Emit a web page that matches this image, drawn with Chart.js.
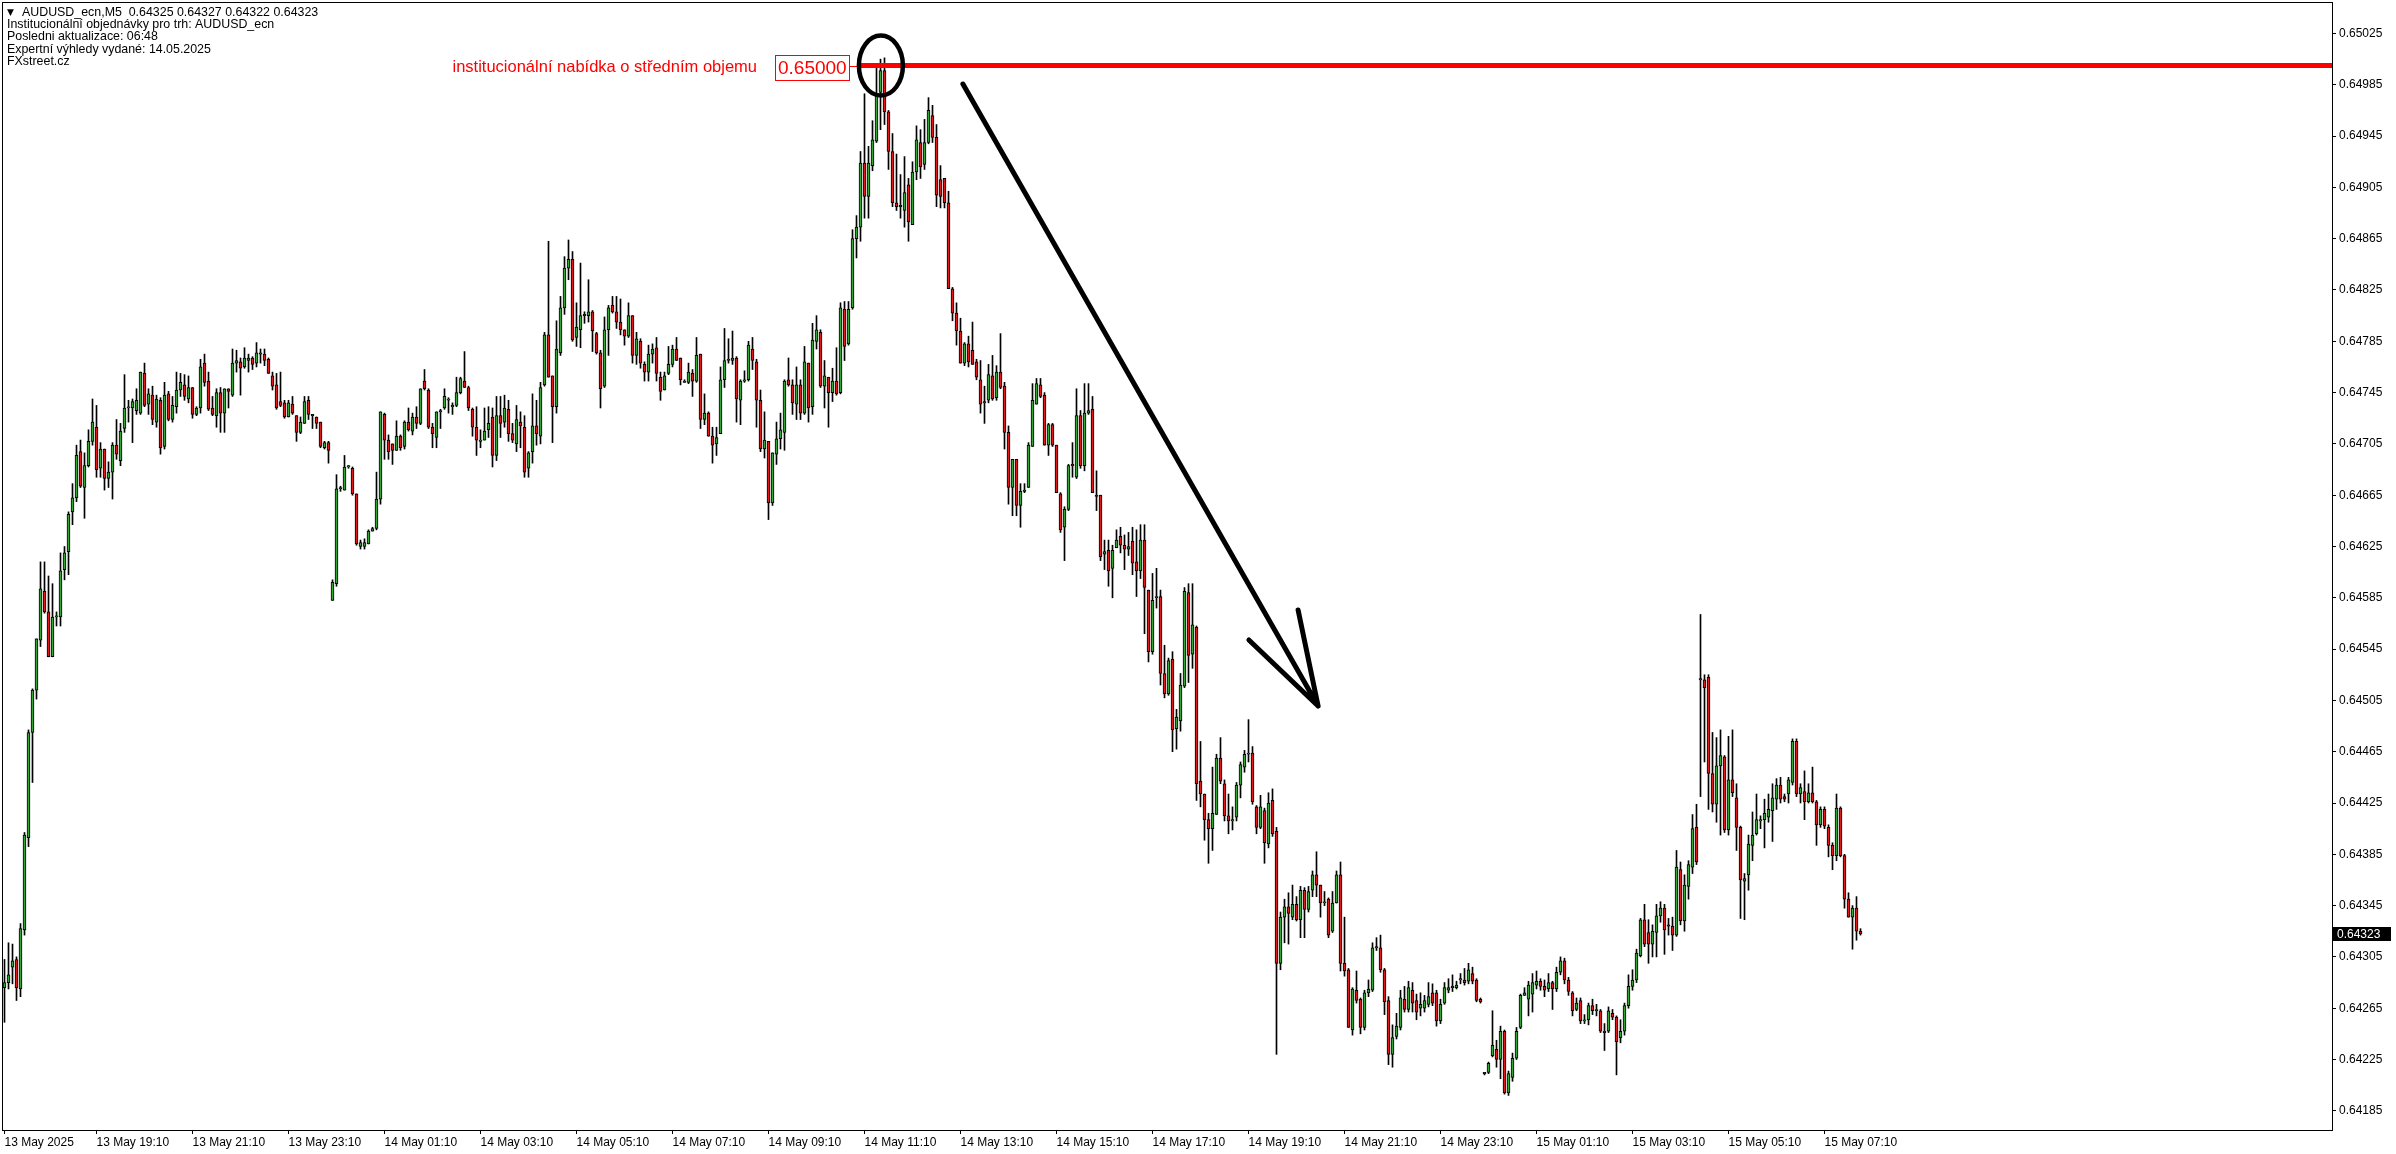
<!DOCTYPE html>
<html>
<head>
<meta charset="utf-8">
<title>AUDUSD_ecn,M5</title>
<script src="https://cdn.jsdelivr.net/npm/chart.js@4/dist/chart.umd.min.js"></script>
<style>
  html, body { margin: 0; padding: 0; background: #fff; }
  canvas { display: block; }
</style>
</head>
<body>
<canvas id="chart" width="2396" height="1154"></canvas>
<script>
// AUDUSD_ecn M5 bars, 13 May 2025 17:15 onwards. Prices in points (1 point = 0.00001)
const opens = [
  64281,64285,64297,64303,64280,64326,64398,64480,64513,64552,
  64590,64574,64539,64570,64570,64607,64621,64652,64663,64699,
  64671,64688,64707,64718,64686,64701,64678,64683,64704,64692,
  64717,64733,64733,64731,64729,64760,64736,64743,64722,64739,
  64703,64744,64724,64734,64747,64751,64740,64749,64728,64733,
  64768,64754,64733,64727,64745,64729,64748,64743,64768,64769,
  64765,64770,64772,64768,64775,64775,64771,64758,64751,64738,
  64737,64726,64736,64727,64714,64721,64739,64727,64726,64722,
  64702,64706,64583,64596,64670,64669,64687,64686,64666,64625,
  64625,64627,64637,64639,64662,64728,64708,64705,64700,64711,
  64703,64722,64715,64726,64721,64754,64747,64718,64710,64730,
  64733,64739,64734,64735,64745,64754,64749,64732,64718,64707,
  64708,64716,64726,64696,64727,64722,64732,64713,64705,64722,
  64718,64686,64699,64719,64711,64751,64790,64758,64734,64776,
  64811,64842,64849,64788,64794,64805,64805,64808,64791,64776,
  64750,64794,64813,64808,64800,64794,64789,64805,64774,64785,
  64767,64761,64775,64780,64757,64747,64760,64767,64779,64772,
  64754,64753,64760,64754,64775,64724,64729,64711,64705,64713,
  64755,64770,64770,64772,64739,64754,64755,64779,64769,64739,
  64701,64707,64659,64697,64709,64714,64755,64751,64736,64751,
  64729,64768,64734,64785,64792,64750,64757,64745,64754,64745,
  64810,64783,64811,64865,64874,64924,64898,64922,64941,64979,
  64996,64964,64933,64893,64890,64887,64907,64876,64917,64940,
  64923,64940,64961,64944,64911,64912,64893,64826,64807,64793,
  64768,64783,64778,64769,64755,64737,64739,64758,64741,64761,
  64750,64714,64671,64693,64657,64668,64671,64703,64736,64751,
  64743,64704,64720,64704,64666,64640,64654,64689,64679,64727,
  64688,64729,64732,64665,64665,64619,64622,64608,64624,64633,
  64626,64623,64629,64613,64606,64630,64591,64543,64585,64586,
  64526,64510,64537,64483,64489,64516,64589,64541,64562,64442,
  64432,64412,64405,64416,64460,64440,64415,64411,64414,64439,
  64453,64463,64464,64422,64406,64419,64393,64427,64403,64300,
  64336,64344,64336,64346,64334,64357,64342,64357,64369,64361,
  64347,64350,64325,64347,64369,64300,64295,64248,64279,64272,
  64250,64277,64279,64312,64312,64295,64271,64229,64243,64250,
  64272,64264,64279,64271,64265,64265,64268,64277,64277,64255,
  64269,64279,64281,64281,64287,64287,64286,64292,64287,64272,
  64214,64215,64228,64233,64225,64247,64199,64211,64226,64250,
  64275,64272,64276,64283,64286,64282,64280,64285,64280,64293,
  64302,64287,64277,64264,64271,64255,64256,64267,64263,64263,
  64247,64247,64261,64258,64242,64247,64267,64282,64287,64306,
  64334,64324,64315,64324,64337,64343,64330,64329,64322,64373,
  64333,64360,64375,64406,64521,64521,64523,64448,64424,64454,
  64461,64404,64443,64429,64406,64364,64369,64392,64401,64411,
  64412,64414,64419,64428,64439,64430,64432,64441,64473,64432,
  64434,64426,64433,64426,64408,64420,64406,64392,64384,64421,
  64384,64350,64336,64343,64325
];
const highs = [
  64303,64316,64315,64305,64331,64402,64482,64514,64553,64613,
  64613,64602,64596,64574,64620,64625,64652,64674,64704,64708,
  64698,64716,64740,64735,64706,64701,64691,64706,64724,64721,
  64759,64739,64740,64748,64761,64768,64748,64750,64743,64741,
  64753,64746,64742,64761,64760,64759,64758,64749,64734,64771,
  64775,64761,64742,64748,64749,64748,64748,64779,64778,64772,
  64780,64775,64773,64784,64779,64779,64772,64761,64760,64761,
  64739,64739,64742,64727,64726,64742,64742,64728,64726,64722,
  64707,64707,64599,64681,64672,64696,64688,64687,64666,64630,
  64631,64638,64640,64683,64730,64729,64712,64705,64723,64712,
  64723,64733,64729,64734,64748,64763,64748,64721,64730,64732,
  64748,64741,64737,64757,64757,64777,64750,64733,64734,64716,
  64733,64734,64733,64742,64742,64743,64739,64721,64735,64730,
  64727,64699,64744,64739,64753,64792,64863,64758,64801,64820,
  64851,64864,64855,64815,64846,64808,64833,64809,64792,64778,
  64804,64813,64820,64820,64818,64794,64815,64805,64792,64787,
  64769,64782,64783,64788,64761,64761,64781,64782,64788,64772,
  64755,64768,64763,64788,64775,64744,64730,64718,64718,64765,
  64795,64787,64793,64773,64755,64762,64785,64788,64771,64747,
  64730,64707,64698,64722,64729,64755,64772,64755,64765,64755,
  64781,64768,64799,64805,64794,64770,64757,64764,64780,64815,
  64816,64816,64872,64883,64933,64978,64937,64957,65000,65005,
  65006,64965,64947,64931,64915,64929,64912,64925,64953,64950,
  64958,64975,64969,64954,64922,64912,64902,64827,64815,64803,
  64784,64789,64800,64771,64770,64750,64767,64774,64766,64791,
  64753,64719,64693,64693,64674,64674,64706,64752,64756,64756,
  64745,64721,64721,64704,64667,64656,64689,64706,64748,64731,
  64752,64752,64742,64684,64665,64630,64630,64626,64638,64640,
  64634,64636,64640,64638,64642,64642,64591,64604,64608,64591,
  64548,64538,64543,64498,64526,64593,64596,64596,64563,64473,
  64432,64417,64453,64463,64476,64443,64432,64422,64441,64457,
  64466,64490,64469,64423,64431,64421,64433,64436,64406,64340,
  64350,64355,64361,64352,64360,64359,64360,64372,64387,64361,
  64356,64351,64356,64372,64379,64336,64296,64281,64294,64273,
  64279,64287,64316,64320,64322,64296,64274,64252,64261,64279,
  64282,64286,64285,64276,64277,64275,64285,64284,64279,64272,
  64285,64288,64291,64286,64292,64296,64300,64297,64288,64273,
  64215,64223,64263,64240,64251,64248,64216,64230,64250,64276,
  64281,64286,64292,64294,64288,64287,64292,64286,64297,64305,
  64304,64289,64278,64273,64273,64260,64269,64272,64268,64264,
  64253,64266,64264,64259,64256,64269,64291,64295,64311,64335,
  64346,64334,64330,64346,64348,64346,64335,64336,64388,64379,
  64369,64380,64416,64424,64572,64525,64525,64480,64476,64482,
  64462,64477,64482,64440,64407,64370,64400,64418,64432,64415,
  64428,64432,64440,64444,64445,64432,64445,64475,64475,64440,
  64450,64440,64453,64427,64422,64422,64408,64394,64432,64422,
  64385,64355,64345,64352,64327
];
const lows = [
  64254,64280,64284,64271,64274,64322,64391,64441,64506,64547,
  64573,64539,64539,64563,64563,64599,64603,64642,64660,64671,
  64647,64687,64704,64679,64679,64669,64671,64662,64693,64688,
  64714,64722,64706,64728,64728,64734,64728,64720,64718,64697,
  64701,64723,64722,64729,64742,64739,64737,64725,64727,64729,
  64750,64731,64727,64718,64714,64714,64733,64742,64761,64743,
  64764,64761,64763,64765,64768,64766,64760,64747,64732,64734,
  64725,64726,64728,64707,64713,64721,64724,64717,64717,64702,
  64701,64690,64583,64594,64668,64669,64686,64665,64626,64623,
  64623,64627,64637,64638,64658,64693,64693,64689,64700,64700,
  64701,64715,64712,64717,64720,64747,64717,64702,64702,64717,
  64732,64729,64728,64734,64744,64749,64731,64711,64696,64702,
  64708,64710,64687,64692,64710,64718,64707,64706,64699,64702,
  64679,64679,64690,64704,64705,64750,64757,64706,64729,64774,
  64806,64833,64785,64781,64780,64799,64800,64777,64775,64733,
  64749,64774,64807,64795,64790,64782,64788,64768,64767,64764,
  64754,64754,64768,64754,64739,64747,64759,64765,64770,64751,
  64753,64752,64742,64753,64717,64720,64711,64690,64696,64713,
  64749,64768,64767,64722,64720,64753,64754,64763,64718,64699,
  64694,64646,64657,64689,64701,64700,64750,64728,64724,64724,
  64728,64722,64728,64779,64749,64733,64718,64738,64743,64744,
  64770,64782,64810,64850,64863,64881,64881,64918,64940,64950,
  64954,64919,64890,64887,64881,64874,64863,64876,64911,64912,
  64919,64939,64940,64890,64889,64889,64826,64801,64782,64768,
  64766,64765,64767,64755,64729,64721,64737,64739,64739,64748,
  64701,64658,64649,64649,64640,64667,64671,64703,64736,64741,
  64704,64696,64703,64667,64636,64614,64653,64679,64678,64686,
  64684,64728,64667,64653,64614,64607,64594,64585,64624,64620,
  64607,64618,64603,64586,64600,64557,64535,64541,64577,64517,
  64507,64509,64465,64467,64481,64515,64519,64530,64427,64422,
  64396,64378,64388,64416,64440,64411,64401,64404,64411,64429,
  64449,64457,64424,64401,64405,64378,64390,64399,64229,64295,
  64316,64315,64334,64333,64320,64320,64340,64352,64352,64336,
  64345,64320,64324,64347,64294,64290,64250,64244,64269,64245,
  64248,64274,64278,64310,64293,64260,64221,64219,64241,64248,
  64262,64262,64262,64256,64259,64262,64266,64267,64251,64253,
  64268,64277,64278,64280,64284,64283,64284,64284,64270,64269,
  64213,64214,64227,64219,64210,64198,64197,64208,64225,64249,
  64275,64259,64262,64280,64279,64274,64278,64264,64278,64291,
  64284,64275,64259,64263,64253,64253,64252,64260,64259,64246,
  64232,64246,64256,64213,64238,64244,64265,64279,64285,64305,
  64313,64300,64305,64305,64332,64307,64322,64310,64321,64330,
  64325,64350,64370,64377,64430,64457,64420,64418,64410,64400,
  64402,64400,64430,64388,64335,64334,64357,64380,64400,64405,
  64390,64410,64395,64420,64425,64426,64425,64439,64430,64425,
  64412,64425,64425,64392,64406,64405,64383,64373,64380,64383,
  64343,64336,64311,64318,64322
];
const closes = [
  64285,64291,64302,64281,64327,64400,64480,64513,64553,64592,
  64574,64539,64570,64571,64606,64620,64650,64663,64696,64672,
  64688,64707,64722,64685,64701,64678,64683,64704,64697,64715,
  64733,64734,64738,64739,64761,64735,64744,64724,64740,64702,
  64743,64724,64735,64747,64753,64742,64749,64728,64733,64765,
  64753,64732,64728,64745,64729,64748,64746,64768,64770,64764,
  64772,64772,64767,64776,64776,64770,64760,64750,64733,64735,
  64726,64737,64729,64714,64722,64738,64728,64728,64721,64703,
  64706,64700,64597,64670,64671,64687,64688,64666,64627,64628,
  64628,64637,64639,64662,64730,64708,64699,64700,64711,64702,
  64722,64716,64726,64721,64748,64748,64718,64713,64730,64731,
  64742,64740,64735,64745,64756,64749,64733,64718,64708,64708,
  64715,64721,64696,64727,64721,64733,64713,64708,64724,64719,
  64683,64698,64719,64713,64749,64790,64757,64734,64779,64811,
  64842,64849,64786,64796,64805,64806,64808,64793,64776,64748,
  64794,64811,64808,64800,64794,64789,64805,64774,64787,64768,
  64761,64775,64779,64760,64746,64758,64767,64779,64770,64755,
  64753,64761,64754,64774,64724,64729,64711,64704,64710,64755,
  64770,64771,64772,64740,64754,64755,64782,64770,64739,64701,
  64708,64659,64698,64709,64716,64754,64751,64737,64751,64729,
  64769,64733,64786,64794,64750,64758,64745,64754,64744,64811,
  64781,64810,64865,64874,64924,64898,64924,64942,64977,64996,
  64964,64933,64893,64890,64891,64901,64878,64917,64942,64921,
  64940,64965,64944,64899,64898,64893,64826,64807,64793,64768,
  64783,64769,64767,64757,64736,64738,64759,64740,64761,64749,
  64714,64671,64693,64657,64668,64669,64704,64739,64752,64742,
  64704,64720,64704,64667,64638,64654,64688,64688,64727,64688,
  64729,64731,64667,64664,64617,64621,64606,64622,64630,64626,
  64623,64625,64612,64606,64630,64593,64543,64583,64586,64526,
  64510,64536,64482,64492,64517,64590,64540,64564,64440,64432,
  64412,64405,64417,64460,64442,64415,64411,64412,64439,64455,
  64463,64464,64426,64406,64422,64394,64425,64401,64300,64336,
  64344,64339,64346,64334,64357,64342,64356,64369,64361,64347,
  64348,64322,64347,64369,64300,64294,64250,64280,64271,64250,
  64277,64280,64312,64313,64295,64270,64229,64242,64251,64273,
  64264,64281,64269,64262,64268,64271,64274,64269,64255,64268,
  64281,64281,64282,64283,64288,64285,64295,64286,64271,64270,
  64215,64222,64236,64225,64247,64199,64214,64226,64247,64275,
  64277,64283,64285,64286,64282,64279,64285,64280,64293,64302,
  64287,64278,64263,64269,64255,64256,64267,64263,64264,64247,
  64246,64263,64258,64239,64247,64267,64282,64287,64308,64334,
  64315,64315,64325,64337,64343,64326,64329,64322,64375,64333,
  64361,64377,64405,64379,64522,64515,64448,64424,64454,64462,
  64404,64443,64433,64406,64365,64366,64393,64400,64412,64412,
  64417,64420,64429,64439,64428,64428,64443,64473,64432,64437,
  64426,64433,64426,64408,64420,64407,64392,64384,64421,64384,
  64350,64336,64343,64325,64323
];

// time axis: bar index of each label and its text
const timeTickIdx = [0, 23, 47, 71, 95, 119, 143, 167, 191, 215, 239, 263, 287, 311, 335, 359, 383, 407, 431, 455];
const timeTickText = ['13 May 2025', '13 May 19:10', '13 May 21:10', '13 May 23:10', '14 May 01:10', '14 May 03:10',
  '14 May 05:10', '14 May 07:10', '14 May 09:10', '14 May 11:10', '14 May 13:10', '14 May 15:10', '14 May 17:10',
  '14 May 19:10', '14 May 21:10', '14 May 23:10', '15 May 01:10', '15 May 03:10', '15 May 05:10', '15 May 07:10'];

// price axis
const priceTicks = [0.64185, 0.64225, 0.64265, 0.64305, 0.64345, 0.64385, 0.64425, 0.64465, 0.64505, 0.64545, 0.64585,
  0.64625, 0.64665, 0.64705, 0.64745, 0.64785, 0.64825, 0.64865, 0.64905, 0.64945, 0.64985, 0.65025];
const levelPrice = 0.65000;
const levelFromBar = 214;
const lastPrice = 0.64323;

const infoLines = [
  'AUDUSD_ecn,M5  0.64325 0.64327 0.64322 0.64323',
  'Institucionální objednávky pro trh: AUDUSD_ecn',
  'Posledni aktualizace: 06:48',
  'Expertní výhledy vydané: 14.05.2025',
  'FXstreet.cz'
];
const levelText = 'institucionální nabídka o středním objemu';

// drawn marks, in (bar index, price)
const circleAt = { bar: 219.1, price: 0.65, rx: 22, ry: 30 };
const arrowLine = [[239.6, 0.649856], [328.4, 0.645006]];
const arrowWings = [[311.1, 0.645521], [323.4, 0.645755]];

const POINT = 0.00001;
const lens = [opens.length, highs.length, lows.length, closes.length];
if (new Set(lens).size !== 1) throw new Error('length mismatch ' + lens.join(','));

const X_MIN = -0.625, X_MAX = 581.875;
const GREEN = '#36a536', RED = '#e01818';

const bodies = opens.map((o, i) => ({ x: i, y: [Math.min(o, closes[i]) * POINT, Math.max(o, closes[i]) * POINT] }));
const wicks = highs.map((h, i) => ({ x: i, y: [lows[i] * POINT, h * POINT] }));

const axisFont = { family: 'Liberation Sans', size: 12 };

const overlay = {
  id: 'overlay',
  afterDraw(chart) {
    const { ctx, chartArea: a, scales: { x, y } } = chart;
    ctx.save();

    // frame
    ctx.strokeStyle = '#000';
    ctx.lineWidth = 1;
    ctx.strokeRect(a.left + 0.5, a.top + 0.5, a.right - a.left, a.bottom - a.top);

    // level label
    const yl = Math.round(y.getPixelForValue(levelPrice));
    const xs = x.getPixelForValue(levelFromBar);
    const boxR = Math.round(xs) - 11, boxW = 74, boxT = yl - 11, boxH = 25;
    ctx.fillStyle = '#fff';
    ctx.fillRect(boxR - boxW, boxT, boxW, boxH);
    ctx.strokeStyle = '#ff0000';
    ctx.lineWidth = 1;
    ctx.strokeRect(boxR - boxW + 0.5, boxT + 0.5, boxW, boxH);
    ctx.beginPath();
    ctx.moveTo(boxR + 0.5, yl + 0.5);
    ctx.lineTo(xs, yl + 0.5);
    ctx.stroke();
    ctx.fillStyle = '#ff0000';
    ctx.textBaseline = 'middle';
    ctx.textAlign = 'left';
    ctx.font = '19px "Liberation Sans"';
    ctx.fillText(levelPrice.toFixed(5), boxR - boxW + 3, boxT + boxH / 2 + 1);
    ctx.textAlign = 'right';
    ctx.font = '16.5px "Liberation Sans"';
    ctx.fillText(levelText, boxR - boxW - 18, boxT + boxH / 2);

    // circle round the top
    ctx.strokeStyle = '#000';
    ctx.lineWidth = 4.5;
    ctx.beginPath();
    ctx.ellipse(x.getPixelForValue(circleAt.bar), y.getPixelForValue(circleAt.price), circleAt.rx, circleAt.ry, 0, 0, Math.PI * 2);
    ctx.stroke();

    // arrow
    const pt = p => [x.getPixelForValue(p[0]), y.getPixelForValue(p[1])];
    const [s, t] = arrowLine.map(pt);
    ctx.lineWidth = 5;
    ctx.lineCap = 'round';
    ctx.beginPath();
    ctx.moveTo(s[0], s[1]);
    ctx.lineTo(t[0], t[1]);
    arrowWings.map(pt).forEach(w => { ctx.moveTo(t[0], t[1]); ctx.lineTo(w[0], w[1]); });
    ctx.stroke();

    // info text top left
    ctx.fillStyle = '#000';
    ctx.textAlign = 'left';
    ctx.textBaseline = 'middle';
    ctx.font = '9px "DejaVu Sans"';
    ctx.fillText('▼', 7, 12.5);
    ctx.font = '12.4px "Liberation Sans"';
    infoLines.forEach((line, k) => ctx.fillText(line, k === 0 ? 22 : 7, 12.5 + k * 12.25));

    // last price tag
    const yp = Math.round(y.getPixelForValue(lastPrice));
    ctx.fillStyle = '#000';
    ctx.fillRect(a.right + 1, yp - 7, 58, 14);
    ctx.fillStyle = '#fff';
    ctx.font = '12px "Liberation Sans"';
    ctx.fillText(lastPrice.toFixed(5), a.right + 5, yp + 0.5);

    ctx.restore();
  }
};

new Chart(document.getElementById('chart'), {
  type: 'bar',
  data: {
    datasets: [
      {
        type: 'line',
        label: 'level',
        data: [{ x: levelFromBar, y: levelPrice }, { x: X_MAX, y: levelPrice }],
        borderColor: '#ff0000',
        borderWidth: 5,
        pointRadius: 0,
        order: 0
      },
      {
        label: 'body',
        data: bodies,
        barThickness: 3,
        minBarLength: 1,
        borderWidth: 1,
        borderColor: '#000',
        borderSkipped: false,
        backgroundColor: c => closes[c.dataIndex] >= opens[c.dataIndex] ? GREEN : RED,
        grouped: false,
        order: 1
      },
      {
        label: 'wick',
        data: wicks,
        barThickness: 1,
        borderWidth: 0,
        backgroundColor: '#000',
        grouped: false,
        order: 2
      }
    ]
  },
  options: {
    responsive: false,
    devicePixelRatio: 1,
    animation: false,
    layout: { padding: { left: 2, top: 2, right: 0, bottom: 0 } },
    plugins: { legend: { display: false }, tooltip: { enabled: false } },
    scales: {
      x: {
        type: 'linear',
        offset: false,
        min: X_MIN,
        max: X_MAX,
        afterBuildTicks: sc => { sc.ticks = timeTickIdx.map(v => ({ value: v })); },
        afterFit: sc => { sc.height = 24; sc.paddingLeft = 0; sc.paddingRight = 0; },
        ticks: {
          autoSkip: false, maxRotation: 0, minRotation: 0, align: 'start', padding: 1,
          color: '#000', font: axisFont,
          callback: v => { const k = timeTickIdx.indexOf(v); return k < 0 ? '' : timeTickText[k]; }
        },
        grid: { offset: false, drawOnChartArea: false, drawTicks: true, tickLength: 4, color: '#000' },
        border: { display: true, color: '#000', width: 1 }
      },
      y: {
        type: 'linear',
        position: 'right',
        min: 0.6417003,
        max: 0.6504956,
        afterBuildTicks: sc => { sc.ticks = priceTicks.map(v => ({ value: v })); },
        afterFit: sc => { sc.width = 64; sc.paddingTop = 0; sc.paddingBottom = 0; },
        ticks: { padding: 3, color: '#000', font: axisFont, callback: v => v.toFixed(5) },
        grid: { drawOnChartArea: false, drawTicks: true, tickLength: 4, color: '#000' },
        border: { display: true, color: '#000', width: 1 }
      }
    }
  },
  plugins: [overlay]
});
</script>
</body>
</html>
